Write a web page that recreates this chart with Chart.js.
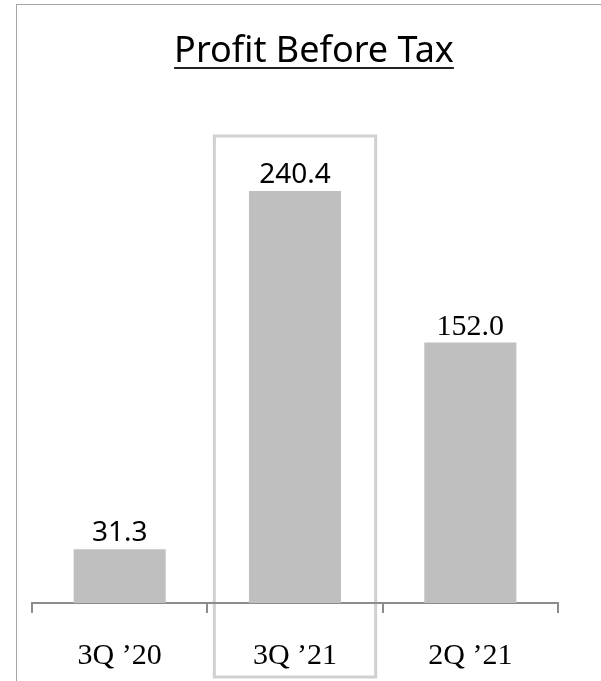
<!DOCTYPE html>
<html>
<head>
<meta charset="utf-8">
<script src="https://cdn.jsdelivr.net/npm/chart.js@4.4.1/dist/chart.umd.min.js"></script>
<style>
  html, body { margin: 0; padding: 0; background: #fff; }
  #wrap { position: relative; width: 601px; height: 681px; }
  #frame { position: absolute; left: 16px; top: 4px; right: 0; bottom: 0; border-top: 1px solid #a6a6a6; border-left: 1px solid #a6a6a6; }
  canvas { position: absolute; left: 0; top: 0; }
</style>
</head>
<body>
<div id="wrap">
  <div id="frame"></div>
  <canvas id="myChart" width="601" height="681"></canvas>
</div>
<script>
// dati del grafico
const titolo = "Profit Before Tax";
const trimestri = ["3Q \u201920", "3Q \u201921", "2Q \u201921"];
const valori = [31.3, 240.4, 152.0];
const etichette = ["31.3", "240.4", "152.0"];
const evidenziato = 1; // indice del trimestre nel riquadro

// titolo sottolineato
const titoloPlugin = {
  id: "titoloSottolineato",
  afterDraw(chart) {
    const ctx = chart.ctx;
    ctx.save();
    ctx.font = "36px 'Noto Sans'";
    ctx.fillStyle = "#000";
    ctx.textAlign = "center";
    ctx.textBaseline = "alphabetic";
    const cx = 314;
    ctx.fillText(titolo, cx, 62);
    const w = ctx.measureText(titolo).width;
    ctx.fillStyle = "#222";
    ctx.fillRect(cx - w / 2, 67, w, 2);
    ctx.restore();
  },
};

// riquadro grigio attorno alla colonna evidenziata
const riquadroPlugin = {
  id: "riquadro",
  beforeDraw(chart) {
    const x = chart.scales.x;
    const ctx = chart.ctx;
    const larghezza = (x.right - x.left) / trimestri.length;
    const cx = x.getPixelForValue(evidenziato);
    ctx.save();
    ctx.strokeStyle = "#d0d0d0";
    ctx.lineWidth = 3;
    ctx.strokeRect(cx - larghezza * 0.46, 136, larghezza * 0.92, 541);
    ctx.restore();
  },
};

// valori sopra le barre
const valoriPlugin = {
  id: "valori",
  afterDatasetsDraw(chart) {
    const ctx = chart.ctx;
    const meta = chart.getDatasetMeta(0);
    ctx.save();
    ctx.fillStyle = "#000";
    ctx.textAlign = "center";
    ctx.textBaseline = "alphabetic";
    meta.data.forEach((bar, i) => {
      ctx.font = i === 2 ? "30px 'Liberation Serif'" : "28px 'Noto Sans'";
      ctx.fillText(etichette[i], bar.x, bar.y - 8);
    });
    ctx.restore();
  },
};

const data = {
  labels: trimestri,
  datasets: [
    {
      data: valori,
      backgroundColor: "#bfbfbf",
      borderWidth: 0,
      categoryPercentage: 1,
      barPercentage: 0.525,
    },
  ],
};

const config = {
  type: "bar",
  data: data,
  options: {
    responsive: false,
    animation: false,
    layout: {
      padding: { top: 89, left: 32, right: 43, bottom: 0 },
    },
    plugins: {
      legend: { display: false },
      title: { display: false },
      tooltip: { enabled: false },
    },
    scales: {
      y: {
        display: false,
        min: 0,
        max: 300,
      },
      x: {
        afterFit: (scale) => {
          scale.height = 78; // altezza fissa dell'asse
        },
        grid: {
          display: true,
          drawOnChartArea: false,
          drawTicks: true,
          tickLength: 10,
          color: "#8c8c8c",
          lineWidth: 2,
          offset: true,
        },
        border: { display: true, color: "#8c8c8c", width: 2 },
        ticks: {
          color: "#000",
          padding: 28,
          font: { family: "'Liberation Serif'", size: 30, lineHeight: 1.0 },
        },
      },
    },
  },
  plugins: [riquadroPlugin, valoriPlugin, titoloPlugin],
};

const myChart = new Chart(document.getElementById("myChart"), config);
</script>
</body>
</html>
